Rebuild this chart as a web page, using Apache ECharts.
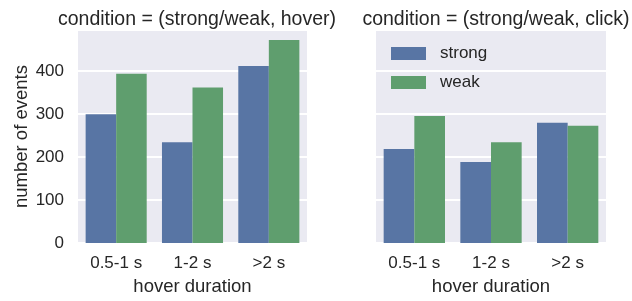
<!DOCTYPE html>
<html>
<head>
<meta charset="utf-8">
<script src="https://cdn.jsdelivr.net/npm/echarts@6/dist/echarts.min.js"></script>
<style>
  html, body { margin: 0; padding: 0; background: #fff; }
  #main { width: 632px; height: 301px; }
</style>
</head>
<body>
<div id="main"></div>
<script>
// hover duration buckets
const categories = ['0.5-1 s', '1-2 s', '>2 s'];
// condition = (strong/weak, hover)
const hoverStrong = [300, 235, 412];
const hoverWeak = [394, 362, 473];
// condition = (strong/weak, click)
const clickStrong = [219, 189, 280];
const clickWeak = [296, 235, 273];
const yTicks = [0, 100, 200, 300, 400];

const FONT = '"Liberation Sans", Arial, sans-serif';
const TXT = '#262626';
const BLUE = '#5875A4';
const GREEN = '#5F9E6E';

const myChart = echarts.init(document.getElementById('main'));

function xAxisFor(idx) {
  return {
    type: 'category',
    gridIndex: idx,
    data: categories,
    axisLine: { show: false },
    axisTick: { show: false },
    axisLabel: { color: TXT, fontSize: 17, fontFamily: FONT, margin: 12 },
    name: 'hover duration',
    nameLocation: 'middle',
    nameGap: 30,
    nameTextStyle: { color: TXT, fontSize: 18.5, fontFamily: FONT }
  };
}

function yAxisFor(idx, showLabels) {
  return {
    type: 'value',
    gridIndex: idx,
    min: 0,
    max: 496,
    interval: 100,
    axisLine: { show: false },
    axisTick: { show: false },
    axisLabel: {
      show: showLabels, color: TXT, fontSize: 17, fontFamily: FONT, margin: 14,
      formatter: function (v) { return yTicks.indexOf(v) >= 0 ? String(v) : ''; }
    },
    splitLine: { show: true, lineStyle: { color: '#ffffff', width: 1.8 } },
    name: showLabels ? 'number of events' : '',
    nameLocation: 'middle',
    nameGap: 46,
    nameTextStyle: { color: TXT, fontSize: 18.5, fontFamily: FONT }
  };
}

function bars(name, data, color, idx) {
  return {
    name: name,
    type: 'bar',
    xAxisIndex: idx,
    yAxisIndex: idx,
    data: data,
    barGap: '0%',
    barCategoryGap: '20%',
    itemStyle: { color: color },
    emphasis: { disabled: true }
  };
}

const option = {
  animation: false,
  backgroundColor: '#ffffff',
  title: [
    { text: 'condition = (strong/weak, hover)', left: 192, top: 5, textAlign: 'center',
      textStyle: { color: TXT, fontSize: 19.5, fontWeight: 'normal', fontFamily: FONT } },
    { text: 'condition = (strong/weak, click)', left: 491, top: 5, textAlign: 'center',
      textStyle: { color: TXT, fontSize: 19.5, fontWeight: 'normal', fontFamily: FONT } }
  ],
  legend: {
    data: ['strong', 'weak'],
    orient: 'vertical',
    left: 391,
    top: 45,
    icon: 'rect',
    itemWidth: 35,
    itemHeight: 13,
    itemGap: 12,
    padding: 0,
    selectedMode: false,
    textStyle: { color: TXT, fontSize: 17, fontFamily: FONT, padding: [0, 0, 0, 9] }
  },
  grid: [
    { left: 78, right: 325, top: 30, bottom: 53, show: true, backgroundColor: '#EAEAF2', borderWidth: 0 },
    { left: 376, right: 26, top: 30, bottom: 53, show: true, backgroundColor: '#EAEAF2', borderWidth: 0 }
  ],
  xAxis: [xAxisFor(0), xAxisFor(1)],
  yAxis: [yAxisFor(0, true), yAxisFor(1, false)],
  series: [
    bars('strong', hoverStrong, BLUE, 0),
    bars('weak', hoverWeak, GREEN, 0),
    bars('strong', clickStrong, BLUE, 1),
    bars('weak', clickWeak, GREEN, 1)
  ]
};

myChart.setOption(option);
</script>
</body>
</html>
